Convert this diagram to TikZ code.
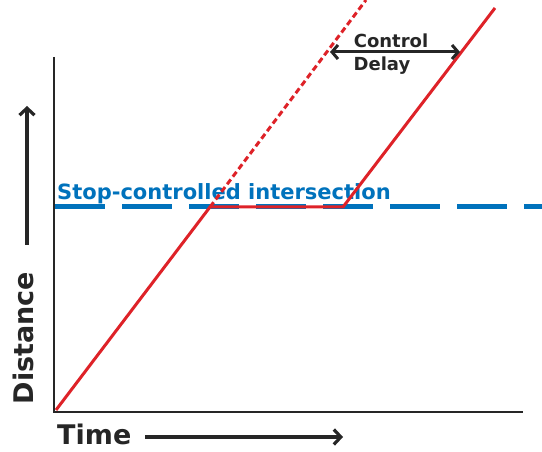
\documentclass[tikz,border=0pt]{standalone}
\usepackage{fontspec}
\setmainfont{DejaVu Sans}
\usetikzlibrary{arrows.meta}
\definecolor{vehred}{RGB}{222,34,40}
\definecolor{stopblue}{RGB}{0,114,188}
\begin{document}
\begin{tikzpicture}[x=1pt,y=-1pt,
  axis/.style={line width=2.8pt,draw=black!85},
  trip/.style={line width=3pt,vehred},
  pointer/.style={line width=3.2pt,black!85},
  label/.style={font=\bfseries,text=black!85,inner sep=0pt}]
  \useasboundingbox (0,0) rectangle (542,452);
  % axes
  \coordinate (ymax) at (54,57);
  \coordinate (origin) at (54,412);
  \coordinate (xmax) at (523,412);
  \draw[axis] (ymax) -- (origin) -- (xmax);
  % stop line
  \coordinate (stopL) at (55,207);
  \coordinate (stopR) at (542,207);
  \draw[stopblue,line width=5pt,dash pattern=on 50pt off 17pt] (stopL) -- (stopR);
  \node[anchor=base west,font=\bfseries\fontsize{21}{23}\selectfont,text=stopblue,inner sep=0pt] (stoptext) at (57,200) {Stop-controlled intersection};
  % trajectory
  \coordinate (start) at (56,410);
  \coordinate (arrive) at (210,207);
  \coordinate (depart) at (343,207);
  \coordinate (nostop) at (366,0);
  \coordinate (exit) at (495,8);
  \draw[trip,line join=round] (start) -- (arrive) -- (depart) -- (exit);
  \draw[trip,dash pattern=on 6pt off 3.5pt] (arrive) -- (nostop);
  % control delay
  \coordinate (dl) at (330,52);
  \coordinate (dr) at (460,52);
  \draw[pointer,line width=3pt,{Straight Barb[length=6pt,width=14pt]}-{Straight Barb[length=6pt,width=14pt]}] (dl) -- (dr);
  \node[label,font=\bfseries\fontsize{18}{20}\selectfont,anchor=base] (ctrl) at (391,48) {Control};
  \node[label,font=\bfseries\fontsize{18}{20}\selectfont,anchor=base] (delay) at (382,71) {Delay};
  % axis labels
  \node[label,font=\bfseries\fontsize{27}{30}\selectfont,rotate=90,anchor=base] (dist) at (34,338) {Distance};
  \coordinate (dbot) at (27,245);
  \coordinate (dtop) at (27,106);
  \draw[pointer,-{Straight Barb[length=7pt,width=15pt]}] (dbot) -- (dtop);
  \node[label,font=\bfseries\fontsize{27}{30}\selectfont,anchor=base west] (time) at (57,444) {Time};
  \coordinate (tl) at (145,437);
  \coordinate (tr) at (343,437);
  \draw[pointer,-{Straight Barb[length=7pt,width=15pt]}] (tl) -- (tr);
\end{tikzpicture}
\end{document}
